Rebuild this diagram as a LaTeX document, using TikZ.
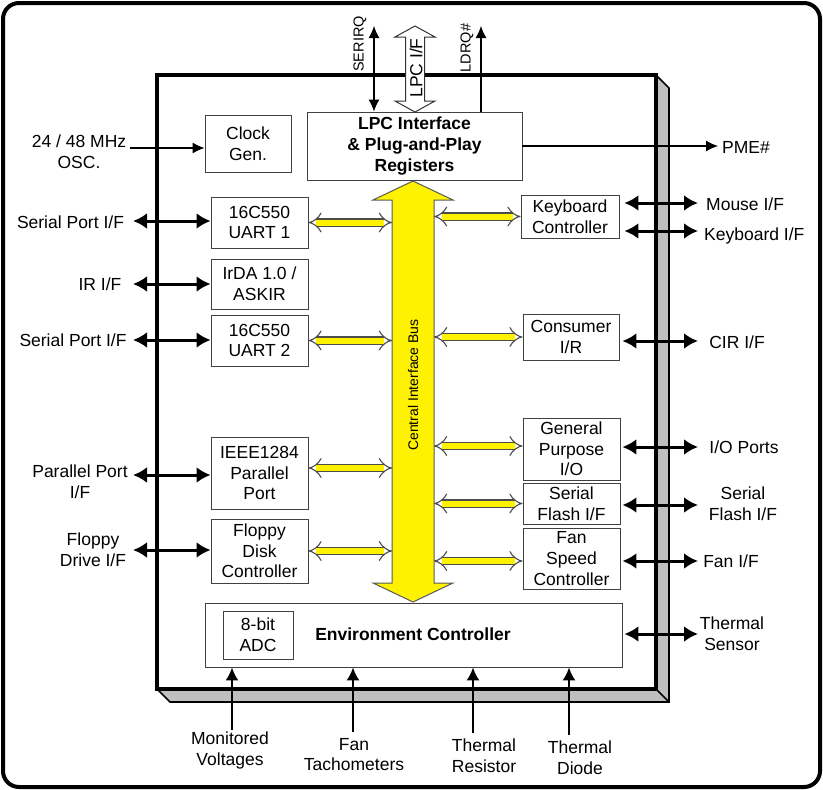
\documentclass[tikz,border=0pt]{standalone}
\usepackage{fontspec}
\setmainfont{Liberation Sans}
\usetikzlibrary{arrows.meta}
\newcommand\fs{\fontsize{17.5}{20.6}\selectfont}
\newcommand\fsm{\fontsize{14.5}{16}\selectfont}
\newcommand\fsb{\fontsize{14}{15}\selectfont}
\tikzset{
 box/.style={draw=black!75, line width=0.9pt, fill=white, inner sep=0pt, align=center, font=\fs},
 lbl/.style={inner sep=0pt, align=center, font=\fs},
 bigarr/.style={line width=3pt, {Latex[length=14pt,width=16pt]}-{Latex[length=14pt,width=16pt]}},
 thinarr/.style={line width=1.1pt, -{Latex[length=12pt,width=11pt]}},
 thindbl/.style={line width=1.1pt, {Latex[length=12pt,width=11pt]}-{Latex[length=12pt,width=11pt]}},
 uparr/.style={line width=2pt, -{Latex[length=13pt,width=13pt]}},
 ybus/.style={double=yellow, double distance=6pt, line width=1.1pt, draw=black!70, {Implies}-{Implies}},
}
\begin{document}
\begin{tikzpicture}[x=1pt,y=-1pt]
\useasboundingbox (0,0) rectangle (823,790);
% outer frame
\draw[line width=4pt, rounded corners=16pt] (3,3) rectangle (820,787);
% chip 3D shadow
\draw[fill=black!25, line width=1.6pt, line join=miter] (656,75) -- (669,88) -- (669,702) -- (170,702) -- (157,689) -- (656,689) -- cycle;
\draw[line width=1.6pt] (656,689) -- (669,702);
% chip front
\draw[fill=white, line width=4pt] (157,75) rectangle (656,689);

% central bus
\draw[fill=yellow, draw=black!65, line width=1pt, line join=miter]
  (413,181) -- (453,200) -- (434,200) -- (434,583) -- (453,583) -- (413,602)
  -- (373,583) -- (392,583) -- (392,200) -- (373,200) -- cycle;
\node[rotate=90, inner sep=0pt, font=\fsb] (buslbl) at (413,385) {Central Interface Bus};
\coordinate (busL) at (392,0);
\coordinate (busR) at (434,0);

% boxes
\node[box, minimum width=86pt, minimum height=57pt] (clk) at (248,143.5) {Clock\\Gen.};
\node[box, minimum width=215pt, minimum height=68pt, font=\fs\bfseries] (lpc) at (414.5,146) {LPC Interface\\\& Plug-and-Play\\Registers};
\node[box, minimum width=97pt, minimum height=51pt] (uart1) at (259.5,222.5) {16C550\\UART 1};
\node[box, minimum width=97pt, minimum height=50pt] (irda) at (259.5,284) {IrDA 1.0 /\\ASKIR};
\node[box, minimum width=97pt, minimum height=51pt] (uart2) at (259.5,340.5) {16C550\\UART 2};
\node[box, minimum width=97pt, minimum height=72pt] (par) at (259.5,473) {IEEE1284\\Parallel\\Port};
\node[box, minimum width=97pt, minimum height=64pt] (fdc) at (259.5,551) {Floppy\\Disk\\Controller};
\node[box, minimum width=98pt, minimum height=43pt] (kbc) at (570,216.5) {Keyboard\\Controller};
\node[box, minimum width=96pt, minimum height=46pt] (cir) at (571,337) {Consumer\\I/R};
\node[box, minimum width=97pt, minimum height=62pt] (gpio) at (571.5,449) {General\\Purpose\\I/O};
\node[box, minimum width=97pt, minimum height=41pt] (sfl) at (571.5,503.5) {Serial\\Flash I/F};
\node[box, minimum width=97pt, minimum height=61pt] (fan) at (571.5,558.5) {Fan\\Speed\\Controller};
\node[box, minimum width=417pt, minimum height=64pt] (env) at (413.5,635) {};
\node[box, minimum width=70pt, minimum height=48pt] (adc) at (258,635) {8-bit\\ADC};
\node[lbl, font=\fs\bfseries] (envlbl) at (413,634) {Environment Controller};

% yellow internal connectors
\draw[ybus] (uart1.east) -- (uart1.east -| busL);
\draw[ybus] (uart2.east) -- (uart2.east -| busL);
\draw[ybus] ([yshift=5pt]par.east) -- ([yshift=5pt]par.east -| busL);
\draw[ybus] (fdc.east) -- (fdc.east -| busL);
\draw[ybus] (kbc.west -| busR) -- (kbc.west);
\draw[ybus] (cir.west -| busR) -- (cir.west);
\draw[ybus] ([yshift=3pt]gpio.west -| busR) -- ([yshift=3pt]gpio.west);
\draw[ybus] (sfl.west -| busR) -- (sfl.west);
\draw[ybus] ([yshift=-2.5pt]fan.west -| busR) -- ([yshift=-2.5pt]fan.west);

% top: LPC I/F hollow arrow
\draw[fill=white, draw=black!80, line width=1pt, line join=miter]
  (415,26) -- (435,37) -- (424.5,37) -- (424.5,101) -- (435,101) -- (415,112)
  -- (395,101) -- (405.5,101) -- (405.5,37) -- (395,37) -- cycle;
\node[rotate=90, inner sep=0pt, font=\fs] (lpcif) at (416,68) {LPC I/F};
\coordinate (sq) at (374,26);
\draw[thindbl] (sq) -- (sq |- lpc.north);
\node[rotate=90, inner sep=0pt, font=\fsm] (sqlbl) at (360,44) {SERIRQ};
\coordinate (ld) at (481,26);
\draw[thinarr] (ld |- lpc.north) -- (ld);
\node[rotate=90, inner sep=0pt, font=\fsm] (ldlbl) at (467,48) {LDRQ\#};

% oscillator and PME#
\node[lbl] (osc) at (79,152) {24 / 48 MHz\\OSC.};
\coordinate (o1) at (130,148);
\draw[thinarr] (o1) -- (o1 -| clk.west);
\coordinate (pme) at (718,146);
\draw[thinarr] (lpc.east |- pme) -- (pme);
\node[lbl] (pmelbl) at (746,147) {PME\#};

% left external
\node[lbl] (l1) at (70.5,222) {Serial Port I/F};
\node[lbl] (l2) at (100,284) {IR I/F};
\node[lbl] (l3) at (73,340) {Serial Port I/F};
\node[lbl] (l4) at (80,482) {Parallel Port\\I/F};
\node[lbl] (l5) at (93,550) {Floppy\\Drive I/F};
\coordinate (c1) at (133,221);
\coordinate (c2) at (133,284);
\coordinate (c3) at (133,340);
\coordinate (c4) at (133,475);
\coordinate (c5) at (133,550);
\draw[bigarr] (c1) -- (c1 -| uart1.west);
\draw[bigarr] (c2) -- (c2 -| irda.west);
\draw[bigarr] (c3) -- (c3 -| uart2.west);
\draw[bigarr] (c4) -- (c4 -| par.west);
\draw[bigarr] (c5) -- (c5 -| fdc.west);

% right external
\coordinate (r1) at (698,203);
\coordinate (r2) at (698,231);
\coordinate (r3) at (698,341);
\coordinate (r4) at (698,447);
\coordinate (r5) at (698,505);
\coordinate (r6) at (698,561);
\coordinate (r7) at (698,634);
\draw[bigarr] ([xshift=5pt]kbc.east |- r1) -- (r1);
\draw[bigarr] ([xshift=5pt]kbc.east |- r2) -- (r2);
\draw[bigarr] ([xshift=3pt]cir.east |- r3) -- (r3);
\draw[bigarr] ([xshift=2pt]gpio.east |- r4) -- (r4);
\draw[bigarr] ([xshift=2pt]sfl.east |- r5) -- (r5);
\draw[bigarr] ([xshift=2pt]fan.east |- r6) -- (r6);
\draw[bigarr] ([xshift=2pt]env.east |- r7) -- (r7);
\node[lbl, anchor=west] (m1) at (706,204) {Mouse I/F};
\node[lbl, anchor=west] (m2) at (704,236) {Keyboard I/F};
\node[lbl] (m3) at (737,342) {CIR I/F};
\node[lbl] (m4) at (744,447) {I/O Ports};
\node[lbl] (m5) at (743,504) {Serial\\Flash I/F};
\node[lbl] (m6) at (731,561) {Fan I/F};
\node[lbl] (m7) at (732,634) {Thermal\\Sensor};

% bottom inputs
\node[lbl] (b1) at (230,750.5) {Monitored\\Voltages};
\node[lbl] (b2) at (354,754.5) {Fan\\Tachometers};
\node[lbl] (b3) at (484,755.5) {Thermal\\Resistor};
\node[lbl] (b4) at (580,757.5) {Thermal\\Diode};
\coordinate (d1) at (232,730);
\coordinate (d2) at (353,732);
\coordinate (d3) at (473,733);
\coordinate (d4) at (569,735);
\draw[uparr] (d1) -- (d1 |- env.south);
\draw[uparr] (d2) -- (d2 |- env.south);
\draw[uparr] (d3) -- (d3 |- env.south);
\draw[uparr] (d4) -- (d4 |- env.south);
\end{tikzpicture}
\end{document}
